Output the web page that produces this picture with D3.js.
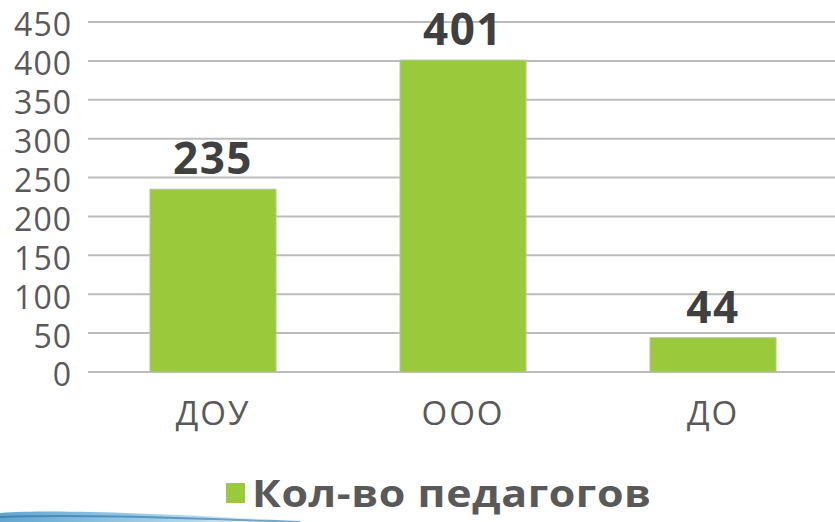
<!DOCTYPE html>
<html lang="ru">
<head>
    <meta charset="UTF-8">
    <title>Кол-во педагогов</title>
    <script src="https://cdnjs.cloudflare.com/ajax/libs/d3/7.8.5/d3.min.js"></script>
    <style>
        body {
            margin: 0;
            background-color: #ffffff;
            font-family: "Open Sans", Arial, sans-serif;
        }
        svg { display: block; }
    </style>
</head>
<body>
    <svg id="chart" width="835" height="522"></svg>

    <script>
        // Data
        const categories = ["ДОУ", "ООО", "ДО"];
        const teachers = [235, 401, 44];
        const yTicks = [0, 50, 100, 150, 200, 250, 300, 350, 400, 450];
        const seriesName = "Кол-во педагогов";

        const svg = d3.select("#chart");
        const margin = {top: 22, right: -3, bottom: 150, left: 88};
        const width = 835, height = 522;

        const x = d3.scaleBand()
            .domain(categories)
            .range([margin.left, width - margin.right])
            .paddingInner(0.496)
            .paddingOuter(0.248);

        const y = d3.scaleLinear()
            .domain([0, 450])
            .range([height - margin.bottom, margin.top]);

        // decorative swoosh at bottom left
        const defs = svg.append("defs");
        const grad = defs.append("linearGradient").attr("id", "swoosh");
        grad.append("stop").attr("offset", "0%").attr("stop-color", "#3a8fc4");
        grad.append("stop").attr("offset", "60%").attr("stop-color", "#9fd0ea");
        grad.append("stop").attr("offset", "100%").attr("stop-color", "#ffffff").attr("stop-opacity", 0);
        svg.append("path")
            .attr("d", "M0,513 C60,509 160,514 330,522 L0,522 Z")
            .attr("fill", "url(#swoosh)")
            .attr("opacity", 0.8);
        svg.append("path")
            .attr("d", "M0,517 C80,514 180,518 300,522")
            .attr("fill", "none")
            .attr("stroke", "#2c6fa6")
            .attr("stroke-width", 2)
            .attr("opacity", 0.6);

        // gridlines
        svg.append("g")
            .selectAll("line")
            .data(yTicks)
            .enter().append("line")
            .attr("x1", margin.left)
            .attr("x2", width)
            .attr("y1", d => y(d))
            .attr("y2", d => y(d))
            .attr("stroke", "#bcbcbc")
            .attr("stroke-width", 2);

        // y tick labels
        svg.append("g")
            .selectAll("text")
            .data(yTicks)
            .enter().append("text")
            .attr("x", 72)
            .attr("y", d => y(d))
            .attr("dy", "0.45em")
            .attr("text-anchor", "end")
            .attr("fill", "#595959")
            .attr("font-size", "32px")
            .attr("letter-spacing", "1px")
            .text(d => d);

        // bars
        svg.append("g")
            .selectAll("rect")
            .data(teachers)
            .enter().append("rect")
            .attr("x", (d, i) => x(categories[i]))
            .attr("y", d => y(d))
            .attr("width", x.bandwidth())
            .attr("height", d => y(0) - y(d))
            .attr("fill", "#9aca3c")
            .attr("stroke", "#b5c49a")
            .attr("stroke-width", 1);

        // value labels
        svg.append("g")
            .selectAll("text")
            .data(teachers)
            .enter().append("text")
            .attr("x", (d, i) => x(categories[i]) + x.bandwidth() / 2)
            .attr("y", d => y(d) - 15)
            .attr("text-anchor", "middle")
            .attr("font-weight", "bold")
            .attr("font-size", "44px")
            .attr("letter-spacing", "1.5px")
            .attr("fill", "#404040")
            .text(d => d);

        // category labels
        svg.append("g")
            .selectAll("text")
            .data(categories)
            .enter().append("text")
            .attr("x", d => x(d) + x.bandwidth() / 2)
            .attr("y", 425)
            .attr("text-anchor", "middle")
            .attr("fill", "#595959")
            .attr("font-size", "33px")
            .attr("letter-spacing", "2px")
            .text(d => d);

        // legend
        const legend = svg.append("g");
        legend.append("rect")
            .attr("x", 226)
            .attr("y", 483)
            .attr("width", 19)
            .attr("height", 20)
            .attr("fill", "#9aca3c");
        legend.append("text")
            .attr("transform", "translate(252,507) scale(1.13,1)")
            .attr("font-weight", "bold")
            .attr("font-size", "38px")
            .attr("letter-spacing", "0.5px")
            .attr("fill", "#595959")
            .text(seriesName);
    </script>
</body>
</html>
